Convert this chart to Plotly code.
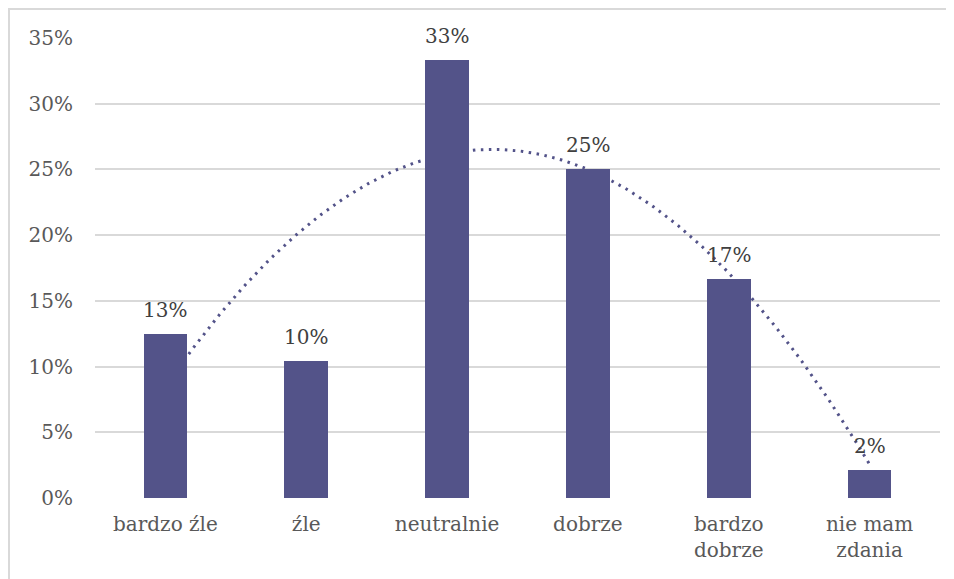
import numpy as np
import plotly.graph_objects as go

categories = ["bardzo źle", "źle", "neutralnie", "dobrze", "bardzo<br>dobrze", "nie mam<br>zdania"]
positions = [1, 2, 3, 4, 5, 6]
values = [0.125, 0.104, 0.333, 0.25, 0.167, 0.021]
y_ticks = [0, 0.05, 0.10, 0.15, 0.20, 0.25, 0.30, 0.35]

BAR = "#535389"
FONT = "DejaVu Serif"
FS = 20

# polynomial (order 2) trendline fitted to the data, as in the source chart
coef = np.polyfit(positions, values, 2)
xt = np.linspace(positions[0], positions[-1], 200)
yt = np.polyval(coef, xt)

fig = go.Figure()
fig.add_trace(go.Scatter(
    x=xt, y=yt, mode="lines",
    line=dict(color=BAR, width=3, dash="2.5px,5.5px"),
    hoverinfo="skip", showlegend=False,
    xaxis="x", yaxis="y",
))
fig.add_trace(go.Bar(
    x=positions, y=values, width=0.31,
    marker=dict(color=BAR, line=dict(width=0)),
    hoverinfo="y", showlegend=False,
    xaxis="x2", yaxis="y2",
))

annotations = [
    dict(x=xv, y=yv, xref="x2", yref="y2", text=f"{int(yv * 100 + 0.5)}%",
         showarrow=False, yanchor="bottom", yshift=10,
         font=dict(family=FONT, size=FS, color="#404040"))
    for xv, yv in zip(positions, values)
]

xr = [0.5, 6.5]
yr = [0, 0.35]
fig.update_layout(
    width=954, height=579,
    margin=dict(l=87, r=22, t=30, b=89),
    paper_bgcolor="white", plot_bgcolor="white",
    font=dict(family=FONT, size=FS, color="#595959"),
    xaxis=dict(range=xr, tickmode="array", tickvals=positions, ticktext=categories,
               showgrid=False, zeroline=False, showline=False,
               ticks="outside", ticklen=8, tickcolor="rgba(0,0,0,0)",
               tickfont=dict(family=FONT, size=FS, color="#595959")),
    yaxis=dict(range=yr, tickmode="array", tickvals=y_ticks, tickformat=".0%",
               showgrid=True, gridcolor="#d9d9d9", gridwidth=1.5,
               zeroline=False, showline=False,
               ticks="outside", ticklen=17, tickcolor="rgba(0,0,0,0)",
               tickfont=dict(family=FONT, size=FS, color="#595959")),
    xaxis2=dict(range=xr, overlaying="x", anchor="y2", visible=False),
    yaxis2=dict(range=yr, overlaying="y", anchor="x2", visible=False),
    bargap=0,
    annotations=annotations,
    shapes=[dict(type="rect", xref="paper", yref="paper",
                 x0=-0.1018, x1=1.2, y0=-0.4, y1=1.063,
                 line=dict(color="#d9d9d9", width=2), fillcolor="rgba(0,0,0,0)",
                 layer="below")],
)

fig.write_html("out.html")
